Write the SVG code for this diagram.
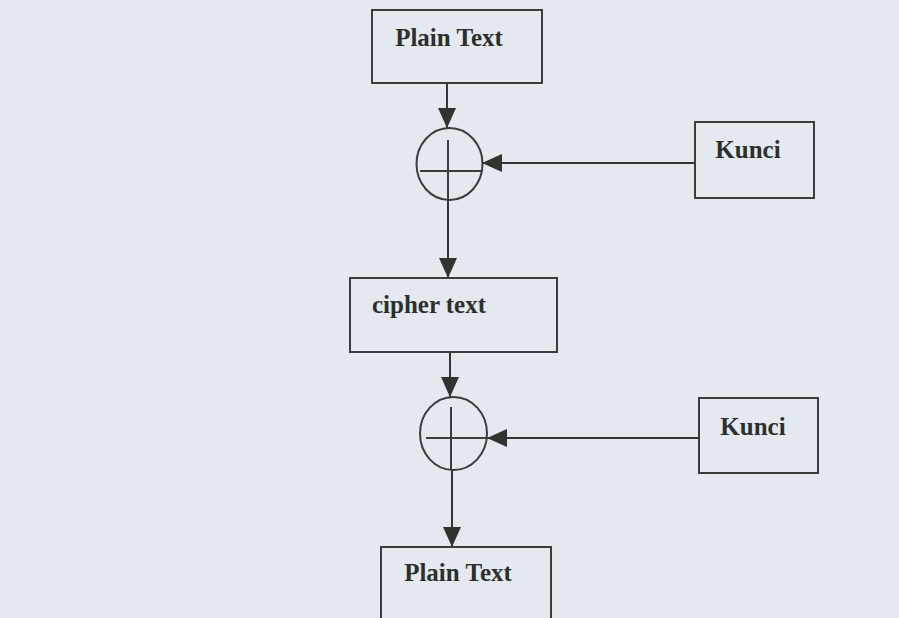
<svg xmlns="http://www.w3.org/2000/svg" width="899" height="618" viewBox="0 0 899 618">
<style>
.box{fill:none;stroke:#3a3d3c;stroke-width:2}
.lbl{font-family:"Liberation Serif","Times New Roman",serif;font-weight:bold;font-size:25px;fill:#2b302d}
.ln{fill:none;stroke:#333634;stroke-width:2}
.xor{fill:none;stroke:#3a3d3c;stroke-width:2}
</style>
<defs>
<marker id="ah" viewBox="0 0 20 20" refX="20" refY="10" markerWidth="20" markerHeight="20" markerUnits="userSpaceOnUse" orient="auto">
<path d="M0,1 L20,10 L0,19 Z" fill="#2f3431"/>
</marker>
</defs>
<rect width="899" height="618" fill="#e3e9ef"/>
<g id="connectors">
<line class="ln" x1="447" y1="83" x2="447" y2="128" marker-end="url(#ah)"/>
<line class="ln" x1="695" y1="163" x2="482" y2="163" marker-end="url(#ah)"/>
<line class="ln" x1="448" y1="200" x2="448" y2="278" marker-end="url(#ah)"/>
<line class="ln" x1="450" y1="352" x2="450" y2="397" marker-end="url(#ah)"/>
<line class="ln" x1="699" y1="438" x2="487" y2="438" marker-end="url(#ah)"/>
<line class="ln" x1="452" y1="470" x2="452" y2="547" marker-end="url(#ah)"/>
</g>
<g id="plain1">
<rect class="box" x="372" y="10" width="170" height="73"/>
<text class="lbl" x="449" y="46" text-anchor="middle">Plain Text</text>
</g>
<g id="xor1">
<ellipse class="xor" cx="449.5" cy="164" rx="33" ry="36"/>
<line class="xor" x1="420" y1="171" x2="482" y2="171"/>
<line class="xor" x1="448" y1="140" x2="448" y2="200"/>
</g>
<g id="kunci1">
<rect class="box" x="695" y="122" width="119" height="76"/>
<text class="lbl" x="748" y="158" text-anchor="middle">Kunci</text>
</g>
<g id="cipher">
<rect class="box" x="350" y="278" width="207" height="74"/>
<text class="lbl" x="429" y="313" text-anchor="middle">cipher text</text>
</g>
<g id="xor2">
<ellipse class="xor" cx="453.5" cy="433.5" rx="33.5" ry="36.5"/>
<line class="xor" x1="426" y1="438" x2="487" y2="438"/>
<line class="xor" x1="451" y1="407" x2="451" y2="470"/>
</g>
<g id="kunci2">
<rect class="box" x="699" y="398" width="119" height="75"/>
<text class="lbl" x="753" y="435" text-anchor="middle">Kunci</text>
</g>
<g id="plain2">
<rect class="box" x="381" y="547" width="170" height="80"/>
<text class="lbl" x="458" y="581" text-anchor="middle">Plain Text</text>
</g>
</svg>
